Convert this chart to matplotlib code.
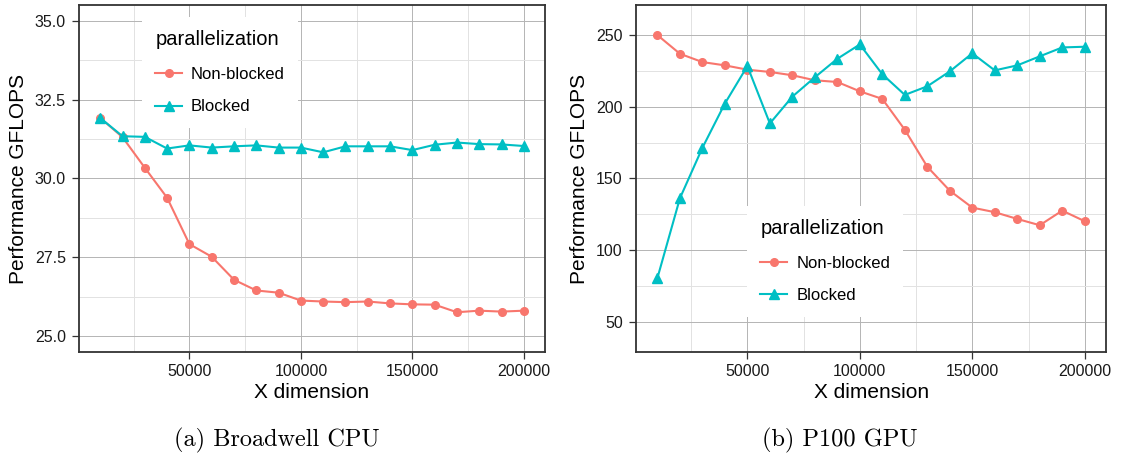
import numpy as np
import matplotlib
matplotlib.use('Agg')
import matplotlib.pyplot as plt
from matplotlib.ticker import MultipleLocator

plt.rcParams['font.family'] = ['Liberation Sans', 'DejaVu Sans']

# X dimension values
x_dim = [10000, 20000, 30000, 40000, 50000, 60000, 70000, 80000, 90000, 100000,
         110000, 120000, 130000, 140000, 150000, 160000, 170000, 180000, 190000, 200000]

# (a) Broadwell CPU
cpu_nonblocked = [31.92, 31.31, 30.34, 29.39, 27.92, 27.52, 26.79, 26.45, 26.38, 26.13,
                  26.10, 26.08, 26.10, 26.04, 26.01, 26.00, 25.76, 25.81, 25.78, 25.81]
cpu_blocked = [31.92, 31.34, 31.32, 30.95, 31.05, 30.98, 31.02, 31.05, 30.98, 30.98,
               30.83, 31.02, 31.02, 31.02, 30.90, 31.07, 31.14, 31.09, 31.08, 31.03]

# (b) P100 GPU
gpu_nonblocked = [250.0, 237.0, 231.2, 228.9, 225.9, 224.3, 222.0, 218.5, 217.3, 210.8,
                  205.5, 184.0, 158.2, 141.5, 129.7, 126.5, 121.8, 117.4, 127.6, 120.2]
gpu_blocked = [80.6, 136.2, 171.4, 202.3, 228.4, 188.4, 207.1, 220.6, 233.5, 243.5,
               222.7, 208.3, 214.3, 224.7, 237.3, 225.4, 228.9, 235.2, 241.4, 241.9]

series_names = ['Non-blocked', 'Blocked']
legend_title = 'parallelization'
captions = ['(a) Broadwell CPU', '(b) P100 GPU']

red = '#F8766D'
cyan = '#00BFC4'


def style_axes(ax, ylim, ymajor):
    ax.set_xlim(500, 209500)
    ax.set_ylim(*ylim)
    ax.xaxis.set_major_locator(MultipleLocator(50000))
    ax.xaxis.set_minor_locator(MultipleLocator(25000))
    ax.yaxis.set_major_locator(MultipleLocator(ymajor))
    ax.yaxis.set_minor_locator(MultipleLocator(ymajor / 2))
    ax.grid(True, which='major', color='#b4b4b4', linewidth=0.7)
    ax.grid(True, which='minor', color='#e2e2e2', linewidth=0.7)
    ax.set_axisbelow(True)
    ax.tick_params(which='major', direction='out', length=5, width=0.9,
                   color='#333333', labelsize=11.5, labelcolor='#1a1a1a', pad=3.5)
    ax.tick_params(axis='y', pad=4.5)
    ax.tick_params(which='minor', length=0)
    for s in ax.spines.values():
        s.set_color('#333333')
        s.set_linewidth(1.3)
    ax.set_xlabel('X dimension', fontsize=15, labelpad=3)
    ax.set_ylabel('Performance GFLOPS', fontsize=15, labelpad=5)


fig = plt.figure(figsize=(11.21, 4.55), dpi=100)
ax1 = fig.add_axes([0.0705, 0.2264, 0.4157, 0.7626])
ax2 = fig.add_axes([0.5674, 0.2264, 0.4193, 0.7626])

panels = [
    (ax1, cpu_nonblocked, cpu_blocked, (24.5, 35.5), 2.5, (0.135, 0.965), '{:.1f}'),
    (ax2, gpu_nonblocked, gpu_blocked, (29, 271), 50, (0.236, 0.421), '{:.0f}'),
]

for ax, nb, b, ylim, ymajor, leg_pos, fmt in panels:
    ax.plot(x_dim, nb, color=red, linewidth=1.5, marker='o', markersize=5.5,
            label=series_names[0])
    ax.plot(x_dim, b, color=cyan, linewidth=1.5, marker='^', markersize=6.5,
            label=series_names[1])
    style_axes(ax, ylim, ymajor)
    ax.yaxis.set_major_formatter(plt.FuncFormatter(lambda v, p, f=fmt: f.format(v)))
    leg = ax.legend(title=legend_title, loc='upper left', bbox_to_anchor=leg_pos,
                    fontsize=12, title_fontsize=14.5, frameon=True, fancybox=False,
                    edgecolor='none', facecolor='white', framealpha=1,
                    handlelength=1.6, handletextpad=0.55, labelspacing=1.05,
                    borderpad=0.8, borderaxespad=0)
    leg._legend_box.align = 'left'

# sub-figure captions
fig.text(277 / 1121, 1 - 440 / 455, captions[0], family='cmr10', fontsize=17.5,
         ha='center', va='center')
fig.text(840 / 1121, 1 - 440 / 455, captions[1], family='cmr10', fontsize=17.5,
         ha='center', va='center')

fig.savefig('out.png', dpi=100)
